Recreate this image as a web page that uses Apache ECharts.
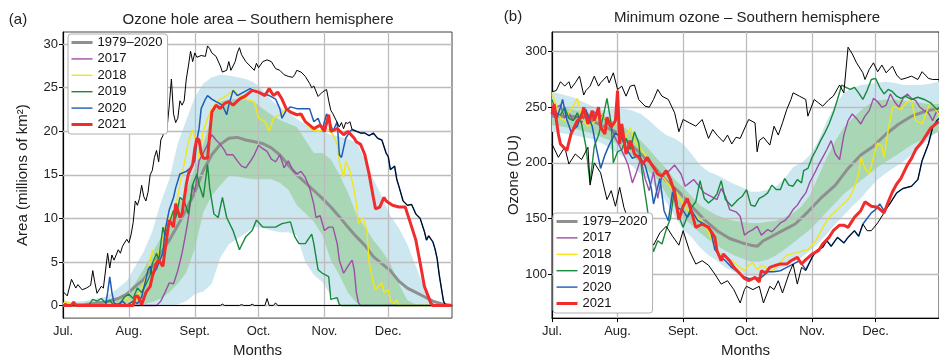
<!DOCTYPE html>
<html>
<head>
<meta charset="utf-8">
<script src="https://cdn.jsdelivr.net/npm/echarts@6/dist/echarts.min.js"></script>
<style>
  html,body{margin:0;padding:0;background:#fff;}
  #main{width:939px;height:363px;}
</style>
</head>
<body>
<div id="main"></div>
<script>
// days counted from 1 July (0) to 31 Dec (183)
var monthDays = [0, 31, 62, 92, 123, 153];
var monthNames = ['Jul.', 'Aug.', 'Sept.', 'Oct.', 'Nov.', 'Dec.'];
var yTicksA = [0, 5, 10, 15, 20, 25, 30];
var yTicksB = [100, 150, 200, 250, 300];
var legendNames = ['1979–2020', '2017', '2018', '2019', '2020', '2021'];

/* ---- (a) ozone hole area ---- */
var bandDays = [0,10,20,25,30,34,38,42,46,50,54,58,62,66,70,74,78,82,86,90,94,98,102,106,110,114,118,122,126,130,134,138,142,146,150,154,158,162,166,170,174,178,183];
var blueHiA = [0.3,0.5,1.0,1.8,2.8,4.5,6.2,8.5,11.8,14.5,18.6,21.3,23.9,25.5,26.2,26.5,26.4,26.2,26.0,25.6,24.7,23.6,22.8,22.2,21.4,20.8,20.4,20.0,19.6,19.4,19.1,18.7,16.8,14.5,12.5,10.3,8.9,7.0,4.5,2.0,0.5,0.1,0];
var blueLoA = [0,0,0,0,0,0,0,0,0,0,0.1,0.5,1.3,1.6,2.5,5.5,7.0,7.7,8.3,9.0,8.9,8.6,8.4,8.4,8.0,5.0,3.5,2.7,1.2,0.2,0,0,0,0,0,0,0,0,0,0,0,0,0];
var greenHiA = [0,0.05,0.3,0.6,1.2,2.6,4.2,6.0,7.8,9.5,11.4,13.2,15.8,18.5,21.8,23.4,23.7,23.7,23.6,23.4,22.6,21.9,21.3,20.9,20.5,19.0,17.5,17.5,16.8,15.0,13.0,10.5,9.0,7.5,6.3,4.8,2.5,0.6,0.1,0,0,0,0];
var greenLoA = [0,0,0,0,0,0,0.1,0.4,0.8,1.5,2.5,3.8,6.5,10.7,12.6,13.8,14.9,14.8,14.6,14.5,14.5,14.5,14.1,13.3,11.5,10.6,9.6,8.1,5.2,3.5,1.5,0.3,0,0,0,0,0,0,0,0,0,0,0];

var meanA = [[0,0],[10,0.1],[20,0.4],[26,0.8],[30,1.3],[34,2.2],[38,3.0],[42,4.5],[46,6.0],[50,7.5],[54,9.2],[58,11.0],[62,13.0],[66,15.5],[70,17.3],[74,18.5],[78,19.2],[82,19.3],[86,19.0],[90,18.8],[94,18.6],[98,18.1],[102,17.3],[106,16.1],[110,15.0],[114,14.1],[118,13.2],[122,12.3],[126,11.3],[130,10.2],[134,9.0],[138,7.9],[142,6.9],[146,5.6],[150,4.8],[154,4.0],[158,2.8],[162,2.0],[166,1.5],[170,1.0],[174,0.5],[178,0.2],[183,0]];
var maxA = [[0,1.6],[2,1.1],[4,3.0],[6,2.0],[7,2.4],[9,1.8],[11,2.0],[13,2.3],[14,4.0],[15,2.6],[16,1.4],[18,2.2],[19,2.0],[21,6.0],[22,4.3],[23,5.8],[24,5.2],[26,6.4],[27,6.0],[28,6.8],[30,7.6],[31,7.2],[32,8.1],[33,9.5],[34,12.0],[35,11.5],[36,12.3],[37,13.8],[38,12.5],[39,12.0],[40,13.0],[41,15.0],[42,15.5],[43,17.0],[44,17.8],[45,16.5],[46,19.0],[47,19.5],[48,21.0],[49,20.5],[50,23.0],[51,26.0],[52,22.0],[53,21.0],[54,21.5],[55,23.5],[56,23.0],[57,23.5],[58,26.0],[59,27.5],[60,29.2],[61,28.0],[62,29.0],[63,28.5],[65,28.7],[67,28.6],[68,29.8],[69,29.5],[70,29.0],[72,28.6],[74,27.5],[75,26.8],[77,27.0],[78,28.0],[79,27.0],[81,28.0],[82,29.0],[83,29.6],[84,28.8],[86,28.0],[88,27.5],[90,27.0],[91,27.8],[92,27.3],[94,28.0],[96,28.2],[98,28.0],[100,27.2],[102,27.0],[104,26.5],[106,26.3],[108,26.2],[109,26.5],[110,27.0],[112,26.8],[114,26.3],[116,25.5],[117,25.0],[118,25.2],[120,24.0],[122,24.5],[124,24.8],[125,23.5],[126,22.4],[127,22.0],[129,21.0],[130,20.5],[131,21.0],[132,20.3],[133,21.0],[134,20.9],[135,21.1],[136,20.2],[138,20.0],[140,19.8],[142,19.8],[144,19.5],[146,19.8],[148,19.2],[150,19.0],[152,17.5],[153,17.1],[154,15.6],[156,16.0],[157,14.5],[158,13.7],[160,12.0],[162,11.5],[164,11.6],[166,10.5],[168,10.0],[170,8.5],[171,7.5],[172,8.0],[174,7.3],[175,6.5],[176,5.4],[177,3.5],[178,2.0],[179,0.5],[180,0],[183,0]];
var minA = [[0,0],[74,0],[75,0.15],[76,0],[83,0],[84,0.1],[85,0],[88,0],[89,0.15],[90,0],[95,0],[96,0.8],[97,0],[99,0],[100,0.3],[101,0],[183,0]];
var y2017A = [[0,0],[44,0],[46,0.5],[48,1.5],[50,2.6],[52,2.5],[54,4.0],[56,6.0],[58,8.6],[59,10.1],[60,12.0],[61,13.9],[62,13.0],[64,16.6],[66,17.5],[68,18.5],[70,19.6],[72,19.0],[74,18.5],[76,17.8],[77,17.3],[80,17.3],[82,16.6],[84,16.0],[86,15.8],[88,16.5],[90,17.3],[92,18.4],[94,18.0],[96,17.7],[98,16.8],[100,16.5],[102,17.3],[104,15.8],[106,16.6],[108,15.6],[110,15.1],[112,15.4],[114,14.7],[116,13.5],[118,11.6],[119,10.1],[121,10.3],[123,8.6],[125,9.0],[127,9.0],[129,7.1],[130,5.2],[132,3.7],[134,4.5],[136,5.2],[137,4.1],[138,1.5],[139,0.3],[140,0],[183,0]];
var y2018A = [[0,0],[1,0.5],[3,0.3],[4,0],[28,0],[30,0.9],[32,0.3],[34,0.5],[36,1.5],[38,2.5],[40,4.0],[42,6.4],[43,5.2],[44,4.9],[46,7.0],[48,9.0],[50,10.0],[52,10.9],[54,12.5],[55,13.9],[57,16.2],[59,18.8],[61,20.2],[63,18.5],[64,16.9],[66,20.0],[68,21.5],[70,22.6],[72,23.2],[74,23.7],[77,24.1],[80,24.7],[83,24.1],[86,23.7],[90,23.4],[92,21.5],[95,21.1],[97,20.0],[99,21.5],[102,21.9],[105,22.6],[108,22.2],[111,21.9],[114,21.1],[117,20.2],[120,20.0],[123,20.3],[125,20.2],[127,19.6],[129,18.5],[130,16.6],[132,14.7],[133,16.6],[135,15.4],[137,13.2],[138,11.7],[139,9.4],[141,10.1],[143,8.6],[144,4.9],[146,2.6],[147,1.8],[150,2.6],[151,1.5],[153,1.8],[154,0.5],[156,0.2],[157,0.7],[158,0],[183,0]];
var y2019A = [[0,0],[12,0],[14,0.7],[16,0.5],[18,0.8],[20,0.3],[22,0.6],[24,0],[27,0.3],[29,1.0],[31,1.3],[33,0.8],[35,2.0],[37,1.5],[39,2.4],[41,3.5],[42,4.8],[44,6.0],[45,5.2],[47,9.0],[48,8.0],[50,9.5],[52,10.9],[53,10.0],[55,12.4],[57,12.0],[59,10.5],[61,13.9],[63,15.1],[64,13.9],[66,12.4],[68,16.2],[69,13.5],[71,10.5],[73,10.1],[75,12.4],[77,10.1],[80,8.6],[83,6.4],[86,7.9],[89,8.6],[91,9.8],[94,9.0],[97,9.0],[100,9.0],[103,9.4],[107,9.6],[109,7.9],[111,7.1],[114,7.1],[117,8.2],[118,7.1],[120,4.1],[122,3.7],[125,3.3],[126,0.7],[129,0.9],[130,0.1],[131,0],[183,0]];
var y2020A = [[0,0],[1,0.2],[3,0],[20,0],[21,1.5],[22,3.3],[23,1.5],[24,0.3],[26,0],[28,0.5],[30,0],[33,0.5],[35,0.2],[37,1.0],[39,3.0],[40,4.1],[41,4.5],[42,3.5],[44,4.2],[45,4.9],[47,6.0],[48,8.6],[50,11.0],[52,12.4],[53,13.5],[55,15.1],[58,15.4],[60,15.8],[62,16.6],[63,19.0],[64,20.3],[65,22.6],[67,23.7],[68,24.1],[70,23.7],[72,23.4],[75,23.0],[77,21.9],[78,23.0],[80,24.7],[82,24.1],[85,24.5],[88,24.9],[91,24.5],[94,24.3],[97,24.1],[100,23.7],[102,22.6],[103,21.5],[105,22.4],[107,22.8],[110,22.6],[113,22.6],[116,22.6],[118,21.1],[120,21.5],[122,20.2],[124,22.0],[126,20.7],[127,20.0],[129,21.1],[130,17.3],[131,17.0],[133,19.2],[135,20.0],[136,20.2],[138,20.0],[140,19.8],[142,19.8],[144,19.5],[146,19.8],[148,19.2],[150,19.0],[152,17.5],[153,17.1],[154,15.6],[156,16.0],[157,14.5],[158,13.7],[160,12.0],[162,11.5],[164,11.6],[166,10.5],[168,10.0],[170,8.5],[171,7.5],[172,8.0],[174,7.3],[175,6.5],[176,5.4],[177,3.5],[178,2.0],[179,0.5],[180,0],[183,0]];
var y2021A = [[0,0],[4,0],[5,0.4],[6,0],[33,0],[34,1.0],[35,1.1],[36,0.7],[37,0.1],[39,1.5],[41,2.2],[42,3.3],[44,4.9],[45,5.2],[47,4.5],[48,6.4],[50,9.8],[52,9.0],[53,11.7],[55,10.1],[56,10.5],[58,13.9],[59,15.1],[61,16.2],[62,18.0],[63,19.2],[64,19.0],[65,17.5],[66,16.9],[68,16.9],[69,19.6],[70,22.2],[72,23.0],[74,22.6],[76,23.2],[78,23.4],[80,23.0],[83,23.7],[86,24.1],[89,24.7],[92,24.5],[95,24.1],[97,24.9],[99,24.1],[101,24.5],[103,23.7],[105,22.6],[107,22.2],[110,21.9],[112,22.0],[114,21.1],[116,20.7],[118,20.3],[121,20.7],[123,20.0],[125,21.9],[126,20.0],[129,20.3],[132,19.6],[134,20.0],[137,19.2],[138,18.8],[140,18.5],[142,17.3],[144,15.1],[146,12.4],[147,11.1],[149,11.3],[151,12.4],[152,12.0],[155,11.5],[158,11.3],[161,11.3],[163,9.8],[166,7.5],[168,4.9],[170,2.2],[173,0.3],[174,0],[183,0]];

/* ---- (b) minimum ozone ---- */
var blueHiB = [264,259,250,247,249,249,247,244,238,231,225,222,217,208,198,192,189,185,181,178,174,174,176,179,186,196,200,207,220,238,252,263,267,270,271,272,273,272,270,270,270,271,273];
var blueLoB = [228,225,221,216,210,205,197,190,184,176,165,152,140,133,124,117,112,106,102,99,98,98,100,103,107,111,115,121,128,136,145,153,161,168,177,185,191,196,201,207,214,221,230];
var greenHiB = [252,248,244,241,236,232,227,220,212,203,195,185,178,170,162,157,153,150,148,147,146,146,147,148,151,155,161,171,188,205,220,232,240,247,253,256,257,257,256,255,254,253,253];
var greenLoB = [234,231,226,222,218,213,206,199,192,185,172,160,151,144,137,131,126,121,117,114,111,111,113,117,122,128,134,140,148,156,164,172,178,184,190,196,201,206,211,216,220,224,228];

var meanB = [[0,242],[8,242],[16,241],[24,233],[30,228],[36,219],[42,208],[48,197],[54,184],[60,174],[66,161],[72,149],[78,139],[84,132],[90,128],[94,126],[97,125],[100,130],[104,134],[109,139],[115,145],[121,156],[127,168],[134,180],[140,195],[146,207],[152,215],[158,226],[164,235],[170,242],[176,246],[180,248],[183,249]];
var maxB = [[0,264],[2,265],[4,273],[6,269],[8,273],[9,267],[11,272],[13,278],[15,261],[16,265],[18,269],[20,278],[22,269],[23,272],[26,278],[27,272],[29,281],[31,266],[33,269],[35,260],[37,269],[39,270],[41,257],[44,251],[46,250],[48,257],[50,266],[52,260],[55,257],[58,245],[60,228],[62,239],[65,236],[68,233],[71,239],[74,222],[76,230],[78,225],[81,219],[83,225],[85,217],[87,223],[89,222],[92,235],[93,239],[96,236],[97,210],[98,220],[100,223],[103,216],[105,233],[107,225],[109,236],[111,248],[113,257],[114,263],[117,260],[120,257],[121,242],[124,257],[126,254],[128,251],[131,257],[133,260],[136,270],[138,263],[140,304],[142,298],[144,290],[147,281],[148,275],[150,284],[152,290],[154,282],[156,288],[158,281],[161,287],[163,279],[165,275],[167,276],[170,278],[173,275],[175,282],[178,276],[180,275],[183,275]];
var minB = [[0,217],[3,205],[6,214],[8,199],[11,208],[14,203],[17,214],[18,180],[20,200],[23,191],[26,167],[28,175],[30,161],[32,178],[34,160],[36,149],[39,140],[42,150],[45,137],[48,126],[51,137],[54,143],[57,134],[60,126],[62,139],[65,121],[68,109],[71,112],[74,108],[77,100],[80,91],[83,94],[86,86],[89,74],[91,86],[92,89],[95,86],[98,89],[100,74],[103,89],[105,86],[107,94],[109,83],[112,100],[114,109],[116,91],[118,106],[120,103],[123,115],[125,121],[128,124],[130,130],[132,125],[135,133],[138,128],[140,133],[143,139],[145,134],[147,145],[149,139],[151,139],[154,146],[157,155],[160,164],[163,173],[166,177],[170,179],[173,185],[175,202],[178,217],[180,232],[182,238],[183,240]];
var y2017B = [[0,243],[2,250],[4,252],[6,240],[8,245],[10,238],[12,242],[14,236],[16,245],[18,238],[20,246],[22,240],[24,244],[26,235],[28,232],[30,222],[32,215],[34,207],[36,198],[38,182],[40,192],[42,204],[44,186],[46,175],[48,192],[50,168],[52,189],[55,192],[58,198],[61,190],[63,179],[65,182],[67,185],[70,178],[72,173],[75,170],[78,167],[80,177],[82,170],[84,158],[87,156],[89,152],[91,135],[93,138],[95,140],[97,143],[99,135],[102,140],[104,138],[106,142],[108,146],[110,148],[112,152],[114,158],[116,162],[118,168],[120,173],[122,183],[124,190],[126,198],[128,205],[130,212],[132,220],[134,208],[136,203],[138,225],[140,238],[142,244],[144,240],[146,235],[148,242],[150,247],[152,258],[154,255],[156,250],[158,252],[160,262],[162,255],[164,250],[166,258],[168,262],[170,258],[172,256],[174,250],[176,247],[178,245],[180,238],[182,247],[183,245]];
var y2018B = [[0,262],[2,252],[4,240],[6,238],[9,248],[12,258],[14,240],[17,233],[20,237],[23,245],[26,238],[28,232],[31,236],[33,230],[35,223],[37,232],[39,220],[41,214],[43,210],[45,204],[47,199],[49,193],[51,190],[53,186],[55,181],[57,176],[59,173],[61,166],[63,160],[65,157],[67,153],[69,150],[71,147],[73,142],[75,133],[77,125],[79,119],[81,117],[83,114],[85,112],[87,109],[89,106],[91,103],[93,108],[95,110],[97,104],[99,108],[101,106],[103,102],[105,104],[107,108],[109,113],[111,117],[113,118],[115,119],[117,120],[119,121],[121,122],[123,126],[125,131],[127,138],[129,145],[131,151],[133,155],[135,158],[137,162],[139,165],[141,170],[143,178],[145,190],[146,205],[148,195],[150,190],[152,205],[154,218],[156,215],[157,205],[159,230],[161,250],[163,250],[165,248],[168,255],[170,256],[172,238],[175,235],[177,245],[179,255],[181,250],[183,243]];
var y2019B = [[0,257],[2,245],[4,243],[6,250],[8,240],[10,238],[12,245],[14,235],[16,215],[18,182],[20,215],[22,225],[24,240],[26,258],[28,235],[29,200],[31,210],[33,212],[35,222],[37,212],[39,228],[41,218],[43,185],[45,160],[47,130],[48,120],[50,130],[52,127],[54,140],[56,150],[58,178],[60,152],[62,142],[64,152],[66,160],[68,165],[70,184],[72,168],[74,164],[76,167],[78,172],[80,184],[82,167],[85,161],[88,167],[90,170],[92,176],[94,162],[96,161],[98,168],[100,170],[102,173],[104,180],[106,176],[108,176],[110,186],[112,180],[114,179],[116,185],[118,182],[119,193],[121,195],[123,205],[125,212],[127,220],[129,227],[131,235],[133,245],[135,257],[137,270],[139,268],[141,266],[143,268],[145,263],[147,257],[149,265],[151,275],[153,276],[155,268],[157,262],[159,266],[161,264],[163,260],[165,258],[167,260],[170,257],[173,259],[176,257],[179,254],[182,248],[183,250]];
var y2020B = [[0,248],[2,239],[4,250],[5,257],[7,239],[9,228],[12,233],[14,245],[16,248],[19,233],[21,213],[23,195],[25,207],[27,216],[30,227],[33,222],[35,213],[38,204],[41,207],[44,198],[47,177],[48,163],[51,186],[53,157],[55,148],[57,174],[59,160],[62,157],[64,151],[66,157],[69,148],[72,145],[75,139],[77,122],[80,115],[82,112],[85,106],[88,102],[90,98],[93,96],[96,96],[99,97],[102,102],[105,102],[108,103],[111,106],[114,109],[117,112],[120,104],[123,115],[125,121],[128,124],[130,130],[132,125],[135,133],[138,128],[140,133],[143,139],[145,134],[147,145],[149,150],[151,155],[153,158],[155,163],[157,157],[160,164],[163,173],[166,177],[170,179],[173,185],[175,202],[178,217],[180,232],[182,238],[183,240]];
var y2021B = [[0,244],[1,253],[3,226],[4,217],[7,211],[9,226],[12,238],[14,241],[15,250],[17,235],[19,247],[20,238],[22,250],[23,232],[25,226],[26,241],[28,232],[30,238],[31,265],[32,217],[33,235],[35,208],[37,220],[39,208],[41,205],[43,199],[45,205],[48,196],[50,190],[52,188],[54,193],[56,185],[58,173],[60,149],[62,161],[64,168],[66,156],[68,142],[71,145],[74,142],[77,133],[78,121],[80,112],[81,118],[84,112],[86,106],[89,100],[91,96],[93,94],[96,97],[98,93],[99,103],[101,101],[103,106],[106,108],[108,109],[111,109],[113,112],[116,115],[118,109],[120,113],[123,118],[126,121],[128,127],[131,133],[133,139],[136,144],[138,144],[140,142],[143,151],[146,157],[148,165],[151,161],[154,160],[157,155],[159,165],[161,174],[163,181],[165,186],[168,198],[170,204],[172,212],[175,219],[177,225],[179,231],[182,236],[183,237]];

var FONT = 'Liberation Sans, Arial, sans-serif';
var colors = {'1979–2020':'#8f8f8f', '2017':'#9d4fa6', '2018':'#f2e614', '2019':'#178a3c', '2020':'#1f5cb5', '2021':'#f02c2c'};
var widths = {'1979–2020':3, '2017':1.4, '2018':1.4, '2019':1.4, '2020':1.4, '2021':3};

// band drawn as a polygon: upper edge forward, lower edge back
function bandSeries(idx, lo, hi, color, z){
    return {
        type:'custom', xAxisIndex:idx, yAxisIndex:idx, z:z, silent:true,
        data:[[bandDays[0], lo[0]]],
        renderItem:function(params, api){
            var pts = [];
            for(var i=0;i<bandDays.length;i++){ pts.push(api.coord([bandDays[i], hi[i]])); }
            for(var j=bandDays.length-1;j>=0;j--){ pts.push(api.coord([bandDays[j], lo[j]])); }
            return {type:'polygon', shape:{points:pts}, style:{fill:color}};
        }
    };
}

// grid lines as markLines (month verticals + value horizontals)
function gridSeries(idx, yTicks, anyData){
    var d = [];
    monthDays.forEach(function(m){ if(m>0) d.push({xAxis:m}); });
    yTicks.forEach(function(v){ d.push({yAxis:v}); });
    return {
        type:'line', xAxisIndex:idx, yAxisIndex:idx, data:anyData, symbol:'none',
        lineStyle:{opacity:0}, z:3, silent:true,
        markLine:{
            silent:true, symbol:['none','none'], label:{show:false}, animation:false,
            lineStyle:{color:'#bcbcbc', width:1.3, type:'solid'},
            emphasis:{disabled:true},
            data:d
        }
    };
}

function lineSeries(idx, name, data, color, width, z){
    return {
        type:'line', name:name, xAxisIndex:idx, yAxisIndex:idx, data:data,
        symbol:'none', showSymbol:false, lineStyle:{color:color, width:width},
        itemStyle:{color:color}, z:z, silent:true
    };
}

function panelSeries(idx, d){
    var s = [];
    s.push(bandSeries(idx, d.blueLo, d.blueHi, '#cde7f0', 1));
    s.push(bandSeries(idx, d.greenLo, d.greenHi, '#a9d7b6', 2));
    s.push(gridSeries(idx, d.yTicks, d.mean));
    s.push(lineSeries(idx, '1979–2020', d.mean, colors['1979–2020'], 3, 4));
    s.push(lineSeries(idx, '2017', d.y2017, colors['2017'], 1.4, 5));
    s.push(lineSeries(idx, '2018', d.y2018, colors['2018'], 1.4, 5));
    s.push(lineSeries(idx, '2019', d.y2019, colors['2019'], 1.4, 5));
    s.push(lineSeries(idx, '2020', d.y2020, colors['2020'], 1.5, 6));
    s.push(lineSeries(idx, 'max', d.max, '#000', 1, 7));
    s.push(lineSeries(idx, 'min', d.min, '#000', 1, 7));
    s.push(lineSeries(idx, '2021', d.y2021, colors['2021'], 3, 8));
    return s;
}

function xAxisOf(idx){
    return {
        type:'value', gridIndex:idx, min:0, max:183,
        name:'Months', nameLocation:'middle', nameGap:24,
        nameTextStyle:{fontFamily:FONT, fontSize:15, color:'#222'},
        axisLine:{lineStyle:{color:'#000', width:1.2}},
        axisTick:{show:true, customValues:monthDays, length:4, lineStyle:{color:'#000'}},
        axisLabel:{customValues:monthDays, fontFamily:FONT, fontSize:13, color:'#222', margin:7,
            formatter:function(v){ var i = monthDays.indexOf(Math.round(v)); return i>=0 ? monthNames[i] : ''; }},
        splitLine:{show:false}
    };
}
function yAxisOf(idx, min, max, ticks, name, gap){
    return {
        type:'value', gridIndex:idx, min:min, max:max,
        name:name, nameLocation:'middle', nameGap:gap,
        nameTextStyle:{fontFamily:FONT, fontSize:15, color:'#222'},
        axisLine:{show:true, lineStyle:{color:'#000', width:1.2}},
        axisTick:{show:true, customValues:ticks, length:4, lineStyle:{color:'#000'}},
        axisLabel:{customValues:ticks, fontFamily:FONT, fontSize:13, color:'#222', margin:5},
        splitLine:{show:false}
    };
}
function legendOf(left, top){
    var items = legendNames.map(function(n){
        return {name:n, lineStyle:{color:colors[n], width:widths[n]}};
    });
    return {
        left:left, top:top, orient:'vertical', data:items, selectedMode:false,
        itemWidth:21, itemHeight:14, itemGap:3.4, padding:[2,5,3,2],
        backgroundColor:'#fff', borderColor:'#b0b0b0', borderWidth:1, borderRadius:3,
        itemStyle:{color:'rgba(0,0,0,0)', borderColor:'rgba(0,0,0,0)', borderWidth:0, opacity:0},
        textStyle:{fontFamily:FONT, fontSize:13, color:'#111'}, z:20
    };
}

var myChart = echarts.init(document.getElementById('main'), null, {renderer:'canvas'});
var option = {
    animation:false,
    backgroundColor:'#fff',
    grid:[
        {left:63, top:32, width:389, height:290, show:true, borderColor:'#444', borderWidth:1, backgroundColor:'transparent'},
        {left:552, top:32, width:389, height:290, show:true, borderColor:'#222', borderWidth:1, backgroundColor:'transparent'}
    ],
    xAxis:[xAxisOf(0), xAxisOf(1)],
    yAxis:[
        yAxisOf(0, -1.45, 31.4, yTicksA, 'Area (millions of km²)', 33),
        yAxisOf(1, 60.4, 317.7, yTicksB, 'Ozone (DU)', 31)
    ],
    legend:[legendOf(68, 34), legendOf(553, 213)],
    graphic:[
        {type:'text', x:18, y:20, style:{text:'(a)', font:'15px ' + FONT, fill:'#222', align:'center', verticalAlign:'middle'}},
        {type:'text', x:258, y:20, style:{text:'Ozone hole area – Southern hemisphere', font:'15px ' + FONT, fill:'#222', align:'center', verticalAlign:'middle'}},
        {type:'text', x:513, y:17, style:{text:'(b)', font:'15px ' + FONT, fill:'#222', align:'center', verticalAlign:'middle'}},
        {type:'text', x:747, y:18, style:{text:'Minimum ozone – Southern hemisphere', font:'15px ' + FONT, fill:'#222', align:'center', verticalAlign:'middle'}}
    ],
    series:[].concat(
        panelSeries(0, {blueLo:blueLoA, blueHi:blueHiA, greenLo:greenLoA, greenHi:greenHiA, yTicks:yTicksA,
            mean:meanA, max:maxA, min:minA, y2017:y2017A, y2018:y2018A, y2019:y2019A, y2020:y2020A, y2021:y2021A}),
        panelSeries(1, {blueLo:blueLoB, blueHi:blueHiB, greenLo:greenLoB, greenHi:greenHiB, yTicks:yTicksB,
            mean:meanB, max:maxB, min:minB, y2017:y2017B, y2018:y2018B, y2019:y2019B, y2020:y2020B, y2021:y2021B})
    )
};
myChart.setOption(option);
</script>
</body>
</html>
